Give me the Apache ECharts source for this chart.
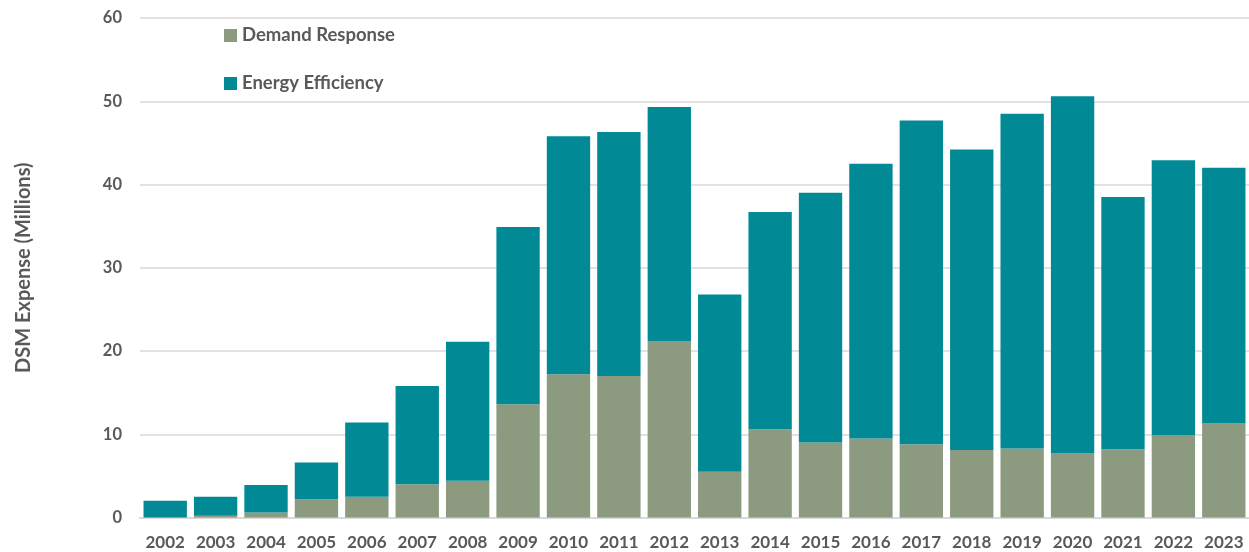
<!DOCTYPE html>
<html>
<head>
<meta charset="utf-8">
<script src="https://cdn.jsdelivr.net/npm/echarts@6/dist/echarts.min.js"></script>
<style>
  html, body { margin: 0; padding: 0; background: #fff; }
  #chart { width: 1249px; height: 552px; }
</style>
</head>
<body>
<div id="chart"></div>
<script>
// DSM expense by year, in millions
const years = ['2002','2003','2004','2005','2006','2007','2008','2009','2010','2011','2012',
               '2013','2014','2015','2016','2017','2018','2019','2020','2021','2022','2023'];
const demandResponse = [0.0, 0.2, 0.6, 2.2, 2.5, 4.0, 4.4, 13.6, 17.2, 17.0, 21.2,
                        5.5, 10.6, 9.0, 9.5, 8.8, 8.1, 8.3, 7.7, 8.2, 9.9, 11.3];
const energyEfficiency = [2.0, 2.3, 3.3, 4.4, 8.9, 11.8, 16.7, 21.3, 28.6, 29.3, 28.1,
                          21.3, 26.1, 30.0, 33.0, 38.9, 36.1, 40.2, 42.9, 30.3, 33.0, 30.7];
const yTicks = [0, 10, 20, 30, 40, 50, 60];

const textColor = '#595959';
const fontFamily = 'Lato, "Open Sans", sans-serif';

const chart = echarts.init(document.getElementById('chart'));
chart.setOption({
  animation: false,
  textStyle: { fontFamily: fontFamily },
  grid: { left: 140, right: 0, top: 18, bottom: 34.5 },
  legend: {
    orient: 'vertical',
    left: 219,
    top: 21,
    itemGap: 29,
    itemWidth: 13,
    itemHeight: 13,
    icon: 'rect',
    textStyle: { color: textColor, fontSize: 18.5, fontWeight: 'bold', fontFamily: fontFamily },
    data: ['Demand Response', 'Energy Efficiency']
  },
  xAxis: {
    type: 'category',
    data: years,
    axisTick: { show: false },
    axisLine: { lineStyle: { color: '#d9d9d9', width: 2 } },
    axisLabel: {
      color: textColor, fontSize: 17, fontWeight: 'bold', margin: 17, fontFamily: fontFamily,
      interval: 0, hideOverlap: false
    }
  },
  yAxis: {
    type: 'value',
    min: yTicks[0],
    max: yTicks[yTicks.length - 1],
    interval: 10,
    name: 'DSM Expense (Millions)',
    nameLocation: 'middle',
    nameGap: 106,
    nameRotate: 90,
    nameTextStyle: { color: textColor, fontSize: 20, fontWeight: 'bold', fontFamily: fontFamily },
    axisLine: { show: false },
    axisTick: { show: false },
    axisLabel: { color: textColor, fontSize: 16.5, fontWeight: 'bold', margin: 18, fontFamily: fontFamily },
    splitLine: { lineStyle: { color: '#d9d9d9', width: 1.5 } }
  },
  series: [
    {
      name: 'Demand Response',
      type: 'bar',
      stack: 'dsm',
      barCategoryGap: '14%',
      itemStyle: { color: '#8c9a80' },
      data: demandResponse
    },
    {
      name: 'Energy Efficiency',
      type: 'bar',
      stack: 'dsm',
      barCategoryGap: '14%',
      itemStyle: { color: '#018a96' },
      data: energyEfficiency
    }
  ]
});
</script>
</body>
</html>
